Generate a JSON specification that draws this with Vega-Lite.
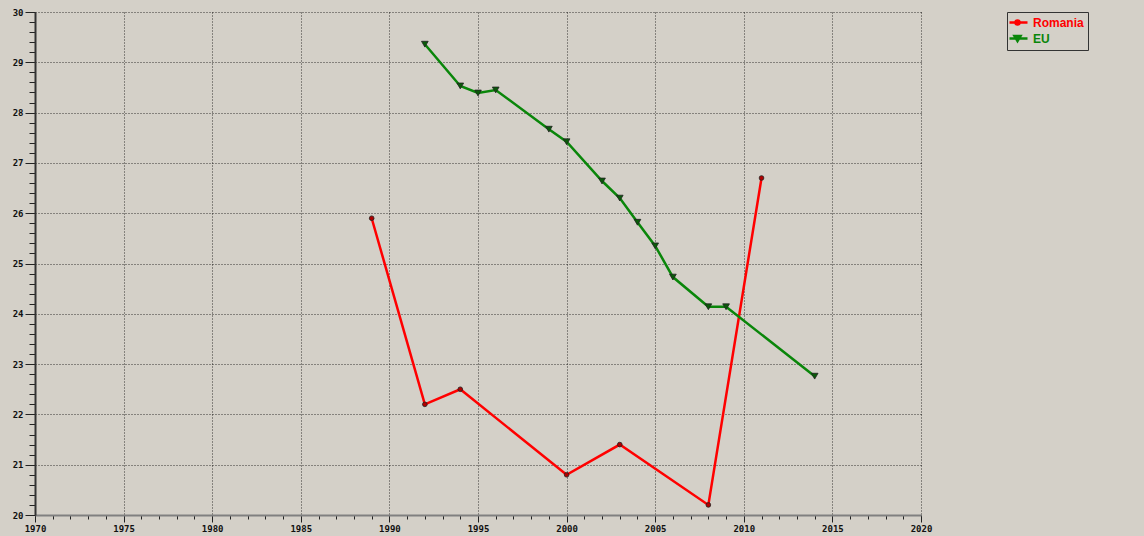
{
  "$schema": "https://vega.github.io/schema/vega-lite/v6.json",
  "autosize": "none",
  "width": 886,
  "height": 503,
  "padding": {"left": 35, "top": 12, "right": 223, "bottom": 21},
  "background": "#d4d0c8",
  "config": {"view": {"stroke": null}},
  "data": {
    "values": [
      {"year": 1989, "value": 25.9, "country": "Romania"},
      {"year": 1992, "value": 22.2, "country": "Romania"},
      {"year": 1994, "value": 22.5, "country": "Romania"},
      {"year": 2000, "value": 20.8, "country": "Romania"},
      {"year": 2003, "value": 21.4, "country": "Romania"},
      {"year": 2008, "value": 20.2, "country": "Romania"},
      {"year": 2011, "value": 26.7, "country": "Romania"},
      {"year": 1992, "value": 29.36, "country": "EU"},
      {"year": 1994, "value": 28.53, "country": "EU"},
      {"year": 1995, "value": 28.39, "country": "EU"},
      {"year": 1996, "value": 28.45, "country": "EU"},
      {"year": 1999, "value": 27.67, "country": "EU"},
      {"year": 2000, "value": 27.42, "country": "EU"},
      {"year": 2002, "value": 26.64, "country": "EU"},
      {"year": 2003, "value": 26.3, "country": "EU"},
      {"year": 2004, "value": 25.82, "country": "EU"},
      {"year": 2005, "value": 25.35, "country": "EU"},
      {"year": 2006, "value": 24.73, "country": "EU"},
      {"year": 2008, "value": 24.14, "country": "EU"},
      {"year": 2009, "value": 24.14, "country": "EU"},
      {"year": 2014, "value": 22.76, "country": "EU"}
    ]
  },
  "encoding": {
    "x": {
      "field": "year", "type": "quantitative",
      "scale": {"domain": [1970, 2020], "nice": false, "zero": false},
      "axis": {
        "title": null,
        "values": [1970,1971,1972,1973,1974,1975,1976,1977,1978,1979,1980,1981,1982,1983,1984,1985,1986,1987,1988,1989,1990,1991,1992,1993,1994,1995,1996,1997,1998,1999,2000,2001,2002,2003,2004,2005,2006,2007,2008,2009,2010,2011,2012,2013,2014,2015,2016,2017,2018,2019,2020],
        "format": "d",
        "labelExpr": "datum.value % 5 === 0 ? datum.label : ''",
        "labelOverlap": false,
        "labelFlush": false,
        "tickSize": {"condition": {"test": "datum.value % 5 === 0", "value": 7}, "value": 4},
        "gridOpacity": {"condition": {"test": "datum.value % 5 === 0", "value": 0.75}, "value": 0},
        "grid": true,
        "gridColor": "#000000",
        "gridDash": [1, 2],
        "gridWidth": 1,
        "domainColor": "#808080",
        "domainWidth": 2,
        "tickColor": "#222222",
        "tickWidth": 1,
        "labelFont": "DejaVu Sans Mono",
        "labelFontWeight": "bold",
        "labelFontSize": 9,
        "labelColor": "#111111",
        "labelPadding": 2
      }
    },
    "y": {
      "field": "value", "type": "quantitative",
      "scale": {"domain": [20, 30], "nice": false, "zero": false},
      "axis": {
        "title": null,
        "values": [20,20.2,20.4,20.6,20.8,21,21.2,21.4,21.6,21.8,22,22.2,22.4,22.6,22.8,23,23.2,23.4,23.6,23.8,24,24.2,24.4,24.6,24.8,25,25.2,25.4,25.6,25.8,26,26.2,26.4,26.6,26.8,27,27.2,27.4,27.6,27.8,28,28.2,28.4,28.6,28.8,29,29.2,29.4,29.6,29.8,30],
        "labelExpr": "abs(datum.value - round(datum.value)) < 0.01 ? format(datum.value, 'd') : ''",
        "labelOverlap": false,
        "labelFlush": false,
        "tickSize": {"condition": {"test": "abs(datum.value - round(datum.value)) < 0.01", "value": 10}, "value": 6},
        "gridOpacity": {"condition": {"test": "abs(datum.value - round(datum.value)) < 0.01", "value": 0.75}, "value": 0},
        "grid": true,
        "gridColor": "#000000",
        "gridDash": [1, 2],
        "gridWidth": 1,
        "domainColor": "#333333",
        "domainWidth": 2,
        "tickColor": "#222222",
        "tickWidth": 1,
        "labelFont": "DejaVu Sans Mono",
        "labelFontWeight": "bold",
        "labelFontSize": 9,
        "labelColor": "#111111",
        "labelPadding": 2
      }
    }
  },
  "layer": [
    {
      "mark": {"type": "line", "strokeWidth": 2.5},
      "encoding": {
        "color": {
          "field": "country", "type": "nominal",
          "scale": {"domain": ["Romania", "EU"], "range": ["#ff0000", "#0a860a"]},
          "legend": {
            "title": null,
            "orient": "none",
            "legendX": 972,
            "legendY": 0,
            "strokeColor": "#333333",
            "padding": 4,
            "symbolSize": 100,
            "symbolStrokeWidth": 2.5,
            "labelOffset": 9,
            "rowPadding": 1,
            "labelFont": "Liberation Sans",
            "labelFontWeight": "bold",
            "labelFontSize": 12,
            "encode": {
              "legend": {
                "update": {"width": {"value": 150}}
              },
              "symbols": {
                "update": {
                  "shape": {"signal": "datum.value === 'Romania' ? 'M-1.6,0H2M-0.4,0A0.4,0.4,0,1,1,0.4,0A0.4,0.4,0,1,1,-0.4,0Z' : 'M-1.6,0H2M-0.6,-0.5L0.6,-0.5L0,0.5Z'"},
                  "fill": {"signal": "datum.value === 'Romania' ? '#a00000' : '#0a4a0a'"}
                }
              },
              "labels": {
                "update": {
                  "fill": {"signal": "datum.value === 'Romania' ? '#ff0000' : '#0a860a'"}
                }
              }
            }
          }
        }
      }
    },
    {
      "transform": [{"filter": {"field": "country", "equal": "Romania"}}],
      "mark": {"type": "point", "shape": "circle", "size": 22, "filled": true, "fill": "#b00000", "stroke": "#222222", "strokeWidth": 0.8, "opacity": 1}
    },
    {
      "transform": [{"filter": {"field": "country", "equal": "EU"}}],
      "mark": {"type": "point", "shape": "triangle-down", "size": 45, "filled": true, "fill": "#0a5a0a", "stroke": "#222222", "strokeWidth": 0.8, "opacity": 1}
    }
  ]
}
